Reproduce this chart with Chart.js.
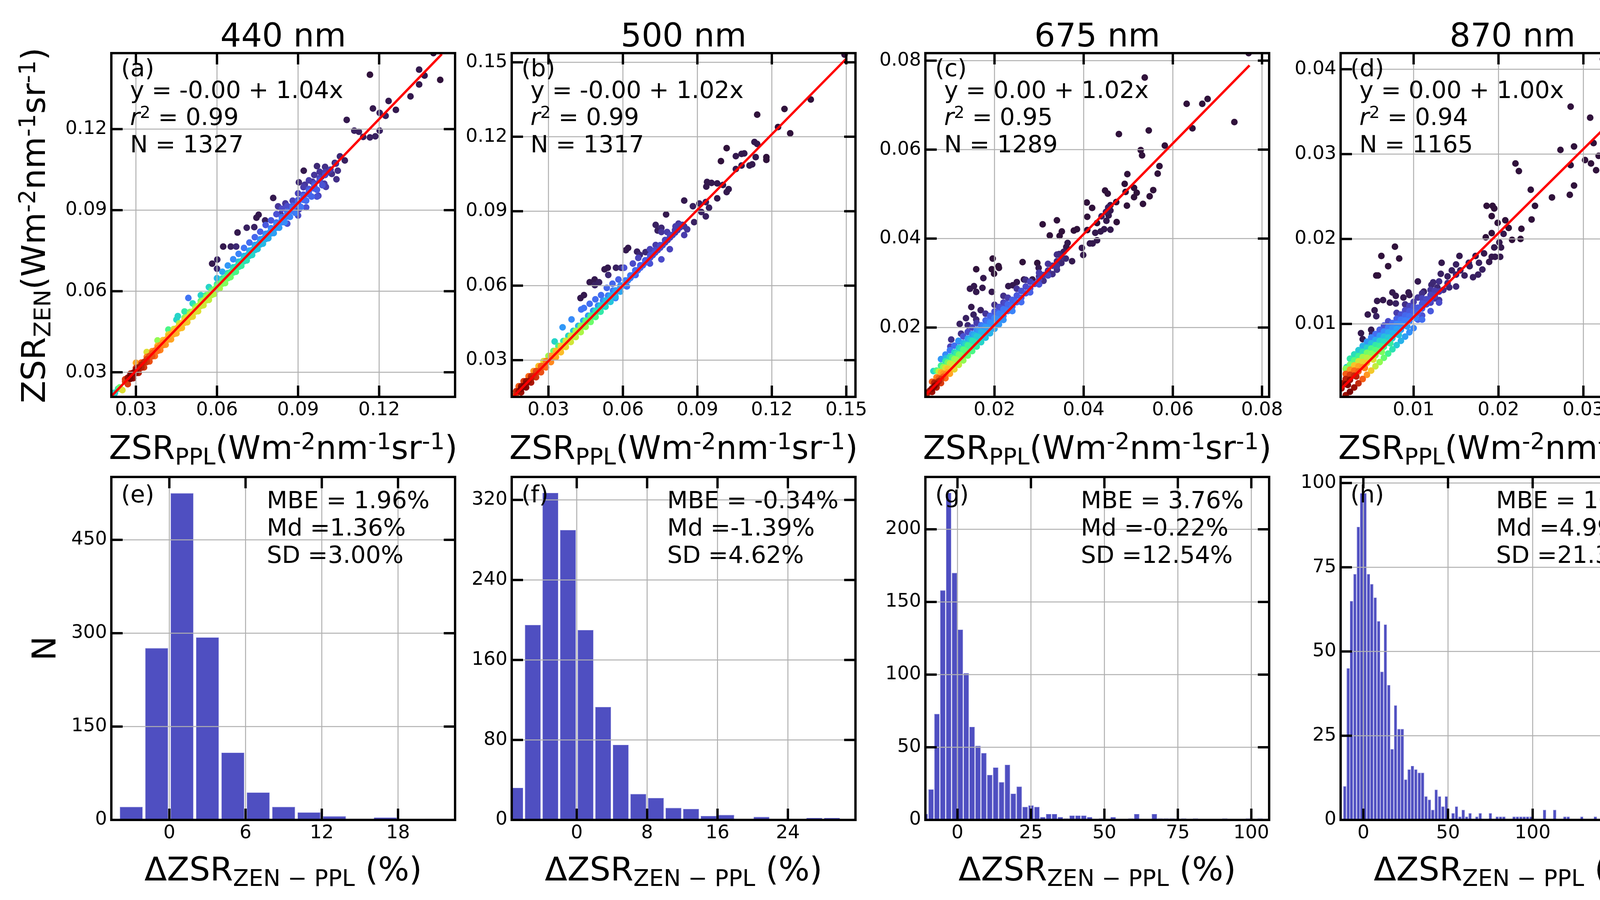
<!DOCTYPE html>
<html>
<head>
<meta charset="utf-8">
<script src="https://cdn.jsdelivr.net/npm/chart.js@4.4.1/dist/chart.umd.min.js"></script>
<style>
  html, body { margin: 0; padding: 0; background: #fff; }
  body { width: 4541px; height: 2304px; position: relative; overflow: hidden; font-family: "DejaVu Sans", sans-serif; }
  canvas { position: absolute; }
  .t { position: absolute; white-space: nowrap; line-height: 1; color: #000; }
  .t sup, .t sub { font-size: 0.7em; position: relative; vertical-align: baseline; line-height: 1; }
  .t sup { top: -0.42em; }
  .t sub { top: 0.24em; }
</style>
</head>
<body>
<script>
"use strict";

// ---------- data ----------
const waveLabels = ["440 nm", "500 nm", "675 nm", "870 nm"];
const scatterLetters = ["(a)", "(b)", "(c)", "(d)"];
const histLetters = ["(e)", "(f)", "(g)", "(h)"];
const fitLabels = ["y = -0.00 + 1.04x", "y = -0.00 + 1.02x", "y = 0.00 + 1.02x", "y = 0.00 + 1.00x"];
const r2Values = ["0.99", "0.99", "0.95", "0.94"];
const nValues = ["1327", "1317", "1289", "1165"];
const mbeValues = ["1.96", "-0.34", "3.76", "10.56"];
const mdValues = ["1.36", "-1.39", "-0.22", "4.99"];
const sdValues = ["3.00", "4.62", "12.54", "21.37"];

// colour bar
const CBAR_MIN = 0.01;
const CBAR_MAX = 1.0;
const cbarTicks = [0.2, 0.4, 0.6, 0.8, 1.0];

// scatter axes / ticks / fits  [intercept, slope], fit drawn over [xmin, xmax]
const axis440 = [0.0209, 0.1481];
const axis500 = [0.0152, 0.1537];
const axis675x = [0.0045, 0.0816];
const axis675y = [0.0044, 0.0817];
const axis870 = [0.0014, 0.0419];
const ticks440 = [0.03, 0.06, 0.09, 0.12];
const ticks500 = [0.03, 0.06, 0.09, 0.12, 0.15];
const ticks675 = [0.02, 0.04, 0.06, 0.08];
const ticks870 = [0.01, 0.02, 0.03, 0.04];
const fit440 = [-0.0005, 1.035];
const fit500 = [-0.0008, 1.015];
const fit675 = [0.0002, 1.02];
const fit870 = [0.0009, 0.99];
const fitX440 = [0.0212, 0.1432];
const fitX500 = [0.0158, 0.1502];
const fitX675 = [0.0048, 0.0772];
const fitX870 = [0.0014, 0.0403];

// scatter points: [ZSR_PPL, ZSR_ZEN, density]
const pts440 = [
  [0.022,0.0224,0.30],[0.0222,0.0223,0.25],[0.0234,0.0239,0.35],[0.024,0.0244,0.45],[0.025,0.0234,0.6],[0.026,0.0266,0.85],
  [0.027,0.0280,0.95],[0.027,0.0256,0.85],[0.028,0.0290,1.0],[0.029,0.0298,0.98],[0.029,0.0278,0.95],[0.030,0.0310,0.96],
  [0.030,0.0335,0.7],[0.031,0.0318,0.93],[0.031,0.0298,0.9],[0.032,0.0328,0.9],[0.033,0.0338,0.88],[0.033,0.0318,0.86],
  [0.034,0.0348,0.85],[0.034,0.0375,0.6],[0.035,0.0360,0.82],[0.035,0.0340,0.82],[0.036,0.0370,0.8],[0.037,0.0380,0.78],
  [0.037,0.0360,0.78],[0.038,0.0390,0.76],[0.038,0.0418,0.5],[0.039,0.0400,0.74],[0.039,0.0382,0.75],[0.040,0.0410,0.72],
  [0.041,0.0420,0.7],[0.041,0.0402,0.72],[0.042,0.0432,0.69],[0.042,0.0458,0.4],[0.043,0.0442,0.68],[0.043,0.0422,0.7],
  [0.044,0.0452,0.67],[0.045,0.0462,0.66],[0.045,0.0444,0.68],[0.045,0.0495,0.3],[0.0455,0.0508,0.3],[0.046,0.0472,0.65],
  [0.047,0.0482,0.63],[0.047,0.0464,0.66],[0.048,0.0494,0.62],[0.048,0.0525,0.35],[0.049,0.0504,0.6],[0.049,0.0485,0.64],
  [0.0494,0.0575,0.15],[0.050,0.0514,0.58],[0.051,0.0524,0.57],[0.051,0.0506,0.62],[0.051,0.0555,0.32],[0.052,0.0535,0.56],
  [0.053,0.0545,0.55],[0.053,0.0526,0.6],[0.054,0.0556,0.54],[0.054,0.0585,0.3],[0.055,0.0566,0.53],[0.055,0.0548,0.58],
  [0.0553,0.0582,0.12],[0.056,0.0577,0.52],[0.057,0.0587,0.5],[0.057,0.0568,0.56],[0.057,0.0615,0.3],[0.058,0.0597,0.49],
  [0.059,0.0607,0.47],[0.059,0.0590,0.54],[0.060,0.0618,0.46],[0.060,0.0648,0.25],[0.061,0.0628,0.44],[0.061,0.0610,0.52],
  [0.062,0.0639,0.42],[0.062,0.0672,0.22],[0.063,0.0649,0.4],[0.063,0.0630,0.48],[0.064,0.0660,0.38],[0.064,0.0695,0.2],
  [0.065,0.0670,0.36],[0.065,0.0652,0.45],[0.066,0.0680,0.35],[0.066,0.0718,0.18],[0.067,0.0690,0.33],[0.067,0.0672,0.4],
  [0.068,0.0701,0.32],[0.068,0.0738,0.17],[0.069,0.0711,0.3],[0.069,0.0694,0.36],[0.070,0.0722,0.28],[0.070,0.0760,0.15],
  [0.071,0.0732,0.27],[0.071,0.0714,0.33],[0.072,0.0742,0.26],[0.072,0.0780,0.14],[0.073,0.0752,0.25],[0.073,0.0734,0.3],
  [0.074,0.0763,0.24],[0.074,0.0800,0.13],[0.075,0.0773,0.23],[0.075,0.0756,0.27],[0.076,0.0783,0.22],[0.076,0.0820,0.12],
  [0.077,0.0794,0.21],[0.077,0.0776,0.25],[0.078,0.0804,0.2],[0.078,0.0845,0.11],[0.079,0.0814,0.2],[0.079,0.0796,0.23],
  [0.080,0.0825,0.19],[0.080,0.0862,0.11],[0.081,0.0815,0.21],[0.082,0.0846,0.18],[0.082,0.0885,0.1],[0.083,0.0835,0.2],
  [0.0835,0.0885,0.06],[0.084,0.0866,0.17],[0.084,0.0905,0.09],[0.085,0.0855,0.18],[0.086,0.0887,0.16],[0.086,0.0915,0.09],
  [0.086,0.0850,0.1],[0.087,0.0875,0.17],[0.088,0.0908,0.15],[0.088,0.0935,0.08],[0.089,0.0890,0.16],[0.090,0.0929,0.14],
  [0.090,0.0962,0.08],[0.090,0.0880,0.09],[0.091,0.0912,0.15],[0.092,0.0950,0.13],[0.092,0.0985,0.07],[0.093,0.0935,0.14],
  [0.093,0.0910,0.1],[0.094,0.0970,0.13],[0.094,0.1010,0.07],[0.095,0.0950,0.13],[0.096,0.0990,0.12],[0.096,0.1030,0.06],
  [0.097,0.0975,0.12],[0.097,0.0950,0.1],[0.098,0.1010,0.1],[0.098,0.1042,0.06],[0.099,0.0992,0.1],[0.100,0.1030,0.09],
  [0.100,0.1060,0.05],[0.101,0.1040,0.06],[0.102,0.1050,0.07],[0.104,0.1072,0.06],
  [0.026,0.0274,0.85],[0.028,0.0295,0.9],[0.030,0.0316,0.85],[0.032,0.0336,0.8],[0.034,0.0357,0.75],[0.036,0.0378,0.72],
  [0.038,0.0398,0.68],[0.040,0.0419,0.64],[0.042,0.0440,0.6],[0.044,0.0460,0.56],[0.046,0.0481,0.52],[0.048,0.0502,0.48],
  [0.050,0.0523,0.45],[0.052,0.0543,0.43],[0.054,0.0564,0.42],[0.056,0.0585,0.4],[0.058,0.0605,0.38],[0.060,0.0626,0.35],
  [0.062,0.0647,0.32],[0.064,0.0667,0.3],[0.066,0.0688,0.28],[0.068,0.0709,0.26],[0.070,0.0730,0.23],[0.072,0.0750,0.21],
  [0.074,0.0771,0.2],[0.076,0.0792,0.18],[0.078,0.0812,0.17],[0.080,0.0833,0.16],[0.082,0.0854,0.15],[0.084,0.0874,0.14],
  [0.086,0.0895,0.13],[0.088,0.0916,0.12],[0.090,0.0937,0.11],[0.092,0.0957,0.1],[0.094,0.0978,0.1],[0.096,0.0999,0.09],
  [0.098,0.1019,0.08],[0.100,0.1040,0.07],
  [0.028,0.0276,1.0],[0.030,0.0297,0.95],[0.032,0.0317,0.9],[0.034,0.0338,0.86],[0.036,0.0359,0.82],[0.038,0.0379,0.78],
  [0.040,0.0400,0.74],[0.042,0.0421,0.71],[0.044,0.0441,0.69],[0.046,0.0462,0.67],[0.048,0.0483,0.65],[0.050,0.0504,0.62],
  [0.052,0.0524,0.6],[0.054,0.0545,0.58],[0.056,0.0566,0.56],[0.058,0.0586,0.54],[0.060,0.0607,0.52],[0.062,0.0628,0.48],
  [0.064,0.0648,0.44],[0.066,0.0669,0.4],[0.068,0.0690,0.36],[0.070,0.0711,0.32],[0.072,0.0731,0.3],[0.074,0.0752,0.27],
  [0.076,0.0773,0.25],[0.078,0.0793,0.23],[0.080,0.0814,0.21],[0.082,0.0835,0.2],[0.084,0.0855,0.18],[0.086,0.0876,0.17],
  [0.088,0.0897,0.16],[0.090,0.0918,0.15],[0.092,0.0938,0.14],[0.094,0.0959,0.13],[0.096,0.0980,0.12],
  [0.0826,0.0914,0.06],[0.0853,0.0925,0.06],[0.0876,0.0903,0.07],[0.0925,0.0994,0.06],[0.0953,0.1005,0.06],[0.0986,0.1023,0.05],
  [0.1025,0.1034,0.05],[0.1047,0.1046,0.05],[0.0997,0.0998,0.07],[0.0903,0.0903,0.08],[0.1003,0.0986,0.07],[0.0975,0.0953,0.08],
  [0.1401,0.1481,0.01],[0.1166,0.1401,0.01],[0.1348,0.1420,0.02],[0.1368,0.1398,0.02],[0.1426,0.1382,0.01],[0.1348,0.1365,0.02],
  [0.1316,0.1321,0.02],[0.1262,0.1271,0.02],[0.1235,0.1304,0.02],[0.1177,0.1276,0.02],[0.1202,0.1260,0.03],[0.1224,0.1249,0.03],
  [0.1080,0.1234,0.02],[0.1202,0.1194,0.03],[0.1108,0.1194,0.03],[0.1125,0.1190,0.03],[0.1141,0.1171,0.03],[0.1166,0.1169,0.03],
  [0.1186,0.1173,0.03],[0.1055,0.1099,0.04],[0.1073,0.1084,0.03],[0.1036,0.1075,0.04],[0.0970,0.1063,0.04],[0.0921,0.1046,0.02],
  [0.0903,0.1003,0.04],[0.1042,0.1014,0.05],[0.0808,0.0945,0.02],[0.0754,0.0883,0.02],[0.0746,0.0872,0.02],[0.0778,0.0862,0.03],
  [0.0710,0.0835,0.03],[0.0738,0.0837,0.03],[0.0676,0.0817,0.02],[0.0623,0.0765,0.02],[0.0651,0.0765,0.03],[0.0582,0.0702,0.02],
  [0.0601,0.0717,0.03],[0.0671,0.0765,0.04],[0.0600,0.0683,0.04]
];

const pts500 = [
  [0.016,0.0154,0.7],[0.017,0.0165,0.85],[0.018,0.0175,0.95],[0.019,0.0185,1.0],[0.020,0.0195,1.0],[0.021,0.0205,0.98],
  [0.022,0.0215,0.95],[0.023,0.0225,0.9],[0.024,0.0236,0.87],[0.025,0.0246,0.84],[0.026,0.0256,0.82],[0.027,0.0266,0.8],
  [0.028,0.0276,0.78],[0.029,0.0286,0.76],[0.030,0.0297,0.74],[0.031,0.0307,0.72],[0.032,0.0317,0.7],[0.033,0.0327,0.68],
  [0.034,0.0337,0.66],[0.035,0.0347,0.64],[0.036,0.0357,0.62],[0.037,0.0368,0.6],[0.038,0.0378,0.58],[0.039,0.0388,0.56],
  [0.040,0.0398,0.55],[0.041,0.0408,0.54],[0.042,0.0418,0.52],[0.043,0.0428,0.5],[0.044,0.0439,0.48],[0.045,0.0449,0.45],
  [0.046,0.0459,0.42],[0.047,0.0469,0.4],[0.048,0.0479,0.37],[0.049,0.0489,0.34],[0.050,0.0500,0.32],[0.051,0.0510,0.3],
  [0.052,0.0520,0.28],[0.053,0.0530,0.26],[0.054,0.0540,0.25],[0.055,0.0550,0.24],[0.056,0.0560,0.23],[0.057,0.0571,0.22],
  [0.058,0.0581,0.21],[0.059,0.0591,0.2],[0.060,0.0601,0.19],[0.061,0.0611,0.18],[0.062,0.0621,0.17],[0.063,0.0631,0.16],
  [0.064,0.0642,0.15],[0.065,0.0652,0.14],[0.066,0.0662,0.13],[0.067,0.0672,0.13],[0.068,0.0682,0.12],[0.069,0.0693,0.12],
  [0.070,0.0703,0.11],[0.071,0.0713,0.1],[0.072,0.0723,0.1],[0.073,0.0733,0.1],[0.074,0.0743,0.09],[0.075,0.0753,0.09],
  [0.076,0.0763,0.09],[0.077,0.0774,0.08],[0.078,0.0784,0.08],[0.079,0.0794,0.08],[0.080,0.0804,0.08],[0.081,0.0814,0.07],
  [0.082,0.0824,0.07],[0.083,0.0835,0.07],[0.084,0.0845,0.06],
  [0.017,0.0150,0.85],[0.019,0.0170,0.95],[0.021,0.0190,0.98],[0.023,0.0210,0.92],[0.025,0.0231,0.86],[0.027,0.0251,0.82],
  [0.029,0.0271,0.78],[0.031,0.0292,0.74],[0.033,0.0312,0.7],[0.035,0.0332,0.66],[0.037,0.0353,0.62],[0.039,0.0373,0.58],
  [0.041,0.0393,0.56],[0.043,0.0413,0.53],[0.045,0.0434,0.5],[0.047,0.0454,0.45],[0.049,0.0474,0.4],[0.051,0.0495,0.35],
  [0.053,0.0515,0.3],[0.055,0.0535,0.27],[0.057,0.0556,0.24],[0.059,0.0576,0.22],
  [0.017,0.0175,0.88],[0.019,0.0195,0.95],[0.021,0.0215,0.95],[0.023,0.0235,0.88],[0.025,0.0256,0.83],[0.027,0.0276,0.79],
  [0.029,0.0296,0.75],[0.031,0.0317,0.7],[0.033,0.0337,0.66],[0.035,0.0357,0.62],[0.037,0.0378,0.58],[0.039,0.0398,0.54],
  [0.041,0.0418,0.5],[0.043,0.0438,0.46],[0.045,0.0459,0.42],[0.047,0.0479,0.37],[0.049,0.0499,0.32],[0.051,0.0520,0.28],
  [0.053,0.0540,0.25],[0.055,0.0560,0.22],[0.057,0.0581,0.2],[0.059,0.0601,0.18],[0.061,0.0621,0.16],[0.063,0.0641,0.15],
  [0.065,0.0662,0.13],[0.067,0.0682,0.12],[0.069,0.0702,0.11],[0.071,0.0723,0.1],[0.073,0.0743,0.09],[0.075,0.0763,0.09],
  [0.077,0.0784,0.08],[0.079,0.0804,0.08],[0.081,0.0824,0.07],[0.083,0.0844,0.07],
  [0.018,0.0195,0.8],[0.020,0.0215,0.85],[0.022,0.0235,0.78],[0.024,0.0256,0.72],[0.026,0.0276,0.66],[0.028,0.0296,0.6],
  [0.030,0.0317,0.52],[0.032,0.0337,0.45],[0.034,0.0357,0.4],[0.036,0.0377,0.35],[0.038,0.0398,0.3],[0.040,0.0418,0.27],
  [0.042,0.0438,0.24],[0.044,0.0459,0.22],[0.046,0.0479,0.2],[0.048,0.0499,0.19],[0.050,0.0520,0.18],[0.052,0.0540,0.17],
  [0.054,0.0560,0.16],[0.056,0.0580,0.15],
  [0.0325,0.0375,0.3],[0.0357,0.0432,0.2],[0.0393,0.0464,0.18],[0.0432,0.0504,0.15],[0.0443,0.0510,0.15],[0.0466,0.0527,0.14],
  [0.0489,0.0545,0.14],[0.0512,0.0562,0.14],[0.0535,0.0591,0.13],[0.0558,0.0608,0.13],[0.0582,0.0625,0.12],[0.0605,0.0672,0.1],
  [0.0640,0.0689,0.09],[0.0662,0.0712,0.08],[0.0709,0.0747,0.08],[0.0732,0.0764,0.07],[0.0755,0.0816,0.06],[0.0778,0.0816,0.07],
  [0.0812,0.0839,0.07],[0.0824,0.0850,0.06],[0.0847,0.0839,0.06],[0.0859,0.0827,0.06],[0.0847,0.0804,0.07],[0.0789,0.0747,0.08],
  [0.0755,0.0706,0.09],[0.0709,0.0689,0.1],[0.0651,0.0643,0.12],[0.0616,0.0597,0.14],[0.0570,0.0550,0.17],
  [0.0429,0.0550,0.02],[0.0443,0.0562,0.02],[0.0466,0.0614,0.02],[0.0486,0.0625,0.02],[0.0487,0.0602,0.03],[0.0504,0.0614,0.03],
  [0.0526,0.0666,0.02],[0.0539,0.0672,0.02],[0.0572,0.0672,0.03],[0.0541,0.0643,0.04],[0.0593,0.0672,0.04],[0.0612,0.0743,0.02],
  [0.0621,0.0752,0.02],[0.0657,0.0737,0.03],[0.0668,0.0724,0.04],[0.0691,0.0735,0.04],[0.0732,0.0845,0.03],[0.0740,0.0822,0.03],
  [0.0755,0.0833,0.04],[0.0774,0.0887,0.02],[0.0847,0.0943,0.02],[0.0882,0.0920,0.03],[0.0887,0.0856,0.03],[0.0908,0.0931,0.03],
  [0.0916,0.0897,0.03],[0.0934,0.0879,0.03],[0.0934,0.0937,0.03],[0.0947,0.0914,0.03],[0.0936,0.0999,0.02],[0.0939,0.1018,0.02],
  [0.0957,0.1014,0.02],[0.0980,0.1012,0.02],[0.1003,0.1006,0.02],[0.0980,0.0952,0.02],[0.1018,0.0977,0.02],[0.1026,0.0989,0.02],
  [0.0995,0.1102,0.01],[0.1018,0.1154,0.01],[0.1055,0.1122,0.02],[0.1055,0.1070,0.02],[0.1078,0.1131,0.02],[0.1089,0.1133,0.02],
  [0.1078,0.1084,0.02],[0.1110,0.1084,0.02],[0.1121,0.1089,0.02],[0.1130,0.1179,0.02],[0.1135,0.1118,0.02],[0.1141,0.1171,0.02],
  [0.1178,0.1118,0.01],[0.1178,0.1107,0.01],[0.1141,0.1289,0.01],[0.1225,0.1239,0.01],[0.1251,0.1312,0.01],[0.1274,0.1214,0.01],
  [0.1357,0.1350,0.01],[0.1493,0.1531,0.01]
];

const pts675 = [
  [0.005,0.0053,0.9],[0.0055,0.0058,0.95],[0.006,0.0063,1.0],[0.0065,0.0068,1.0],[0.007,0.0073,0.95],[0.0075,0.0079,0.9],
  [0.008,0.0084,0.85],[0.0085,0.0089,0.8],[0.009,0.0094,0.75],[0.0095,0.0099,0.7],[0.010,0.0104,0.65],[0.0105,0.0109,0.6],
  [0.011,0.0114,0.56],[0.0115,0.0119,0.52],[0.012,0.0124,0.48],[0.0125,0.0130,0.45],[0.013,0.0135,0.42],[0.0135,0.0140,0.4],
  [0.014,0.0145,0.38],[0.0145,0.0150,0.35],[0.015,0.0155,0.32],[0.0155,0.0160,0.3],[0.016,0.0165,0.28],[0.017,0.0175,0.25],
  [0.018,0.0186,0.23],[0.019,0.0196,0.21],[0.020,0.0206,0.2],[0.021,0.0216,0.19],[0.022,0.0226,0.18],[0.023,0.0237,0.16],
  [0.024,0.0247,0.15],[0.025,0.0257,0.14],[0.026,0.0267,0.12],[0.027,0.0277,0.11],[0.028,0.0288,0.1],[0.029,0.0298,0.09],
  [0.030,0.0308,0.08],[0.031,0.0318,0.07],[0.032,0.0328,0.06],[0.033,0.0339,0.06],[0.034,0.0349,0.05],[0.035,0.0359,0.05],
  [0.006,0.0055,0.95],[0.007,0.0065,0.9],[0.008,0.0075,0.85],[0.009,0.0086,0.78],[0.010,0.0096,0.7],[0.011,0.0106,0.62],
  [0.012,0.0116,0.56],[0.013,0.0126,0.5],[0.014,0.0137,0.45],[0.015,0.0147,0.4],[0.016,0.0157,0.35],[0.017,0.0167,0.3],
  [0.018,0.0177,0.26],[0.019,0.0187,0.24],[0.020,0.0197,0.22],[0.021,0.0207,0.2],[0.022,0.0217,0.19],[0.024,0.0237,0.17],
  [0.026,0.0257,0.14],[0.028,0.0279,0.12],[0.030,0.0297,0.1],[0.032,0.0317,0.08],[0.034,0.0338,0.06],
  [0.0065,0.0076,0.9],[0.0075,0.0086,0.8],[0.0085,0.0096,0.72],[0.0095,0.0107,0.65],[0.0105,0.0117,0.58],[0.0115,0.0127,0.52],
  [0.0125,0.0137,0.46],[0.0135,0.0147,0.42],[0.0145,0.0157,0.38],[0.0155,0.0168,0.33],[0.0165,0.0178,0.28],[0.0175,0.0188,0.24],
  [0.0185,0.0198,0.21],[0.0195,0.0208,0.19],[0.0205,0.0219,0.18],[0.0215,0.0229,0.16],[0.0225,0.0239,0.15],[0.0235,0.0249,0.13],
  [0.0245,0.0259,0.12],
  [0.006,0.0078,0.8],[0.007,0.0088,0.75],[0.008,0.0099,0.68],[0.009,0.0109,0.6],[0.010,0.0119,0.55],[0.011,0.0129,0.5],
  [0.012,0.0139,0.45],[0.013,0.0150,0.42],[0.014,0.0160,0.38],[0.015,0.0170,0.33],[0.016,0.0180,0.28],[0.017,0.0190,0.24],
  [0.018,0.0201,0.2],[0.019,0.0211,0.18],[0.020,0.0221,0.17],[0.021,0.0231,0.16],[0.022,0.0241,0.15],[0.023,0.0252,0.13],
  [0.024,0.0262,0.12],[0.025,0.0272,0.11],[0.026,0.0282,0.1],[0.027,0.0292,0.09],[0.028,0.0303,0.08],[0.030,0.0323,0.07],
  [0.032,0.0343,0.06],[0.034,0.0364,0.05],
  [0.0075,0.0101,0.55],[0.0085,0.0111,0.5],[0.0095,0.0121,0.45],[0.0105,0.0132,0.4],[0.0115,0.0142,0.36],[0.0125,0.0152,0.33],
  [0.0135,0.0162,0.3],[0.0145,0.0172,0.27],[0.0155,0.0183,0.24],[0.0165,0.0193,0.2],[0.0175,0.0203,0.17],[0.0185,0.0213,0.15],
  [0.0195,0.0223,0.13],[0.0205,0.0234,0.12],[0.0215,0.0244,0.1],[0.0225,0.0254,0.09],
  [0.007,0.0103,0.4],[0.008,0.0114,0.38],[0.009,0.0124,0.35],[0.010,0.0134,0.32],[0.011,0.0144,0.3],[0.012,0.0154,0.28],
  [0.013,0.0165,0.25],[0.014,0.0175,0.22],[0.015,0.0185,0.2],[0.016,0.0195,0.17],[0.017,0.0205,0.15],[0.018,0.0216,0.13],
  [0.019,0.0226,0.12],[0.020,0.0236,0.1],[0.021,0.0246,0.09],[0.022,0.0256,0.08],[0.023,0.0267,0.07],[0.025,0.0287,0.06],
  [0.027,0.0307,0.05],
  [0.008,0.0129,0.2],[0.009,0.0139,0.18],[0.010,0.0149,0.16],[0.011,0.0159,0.14],[0.012,0.0169,0.12],[0.013,0.0180,0.1],
  [0.014,0.0190,0.09],[0.015,0.0200,0.08],[0.016,0.0210,0.07],[0.018,0.0231,0.06],[0.020,0.0251,0.05],[0.022,0.0271,0.05],
  [0.0063,0.0102,0.3],[0.0091,0.0131,0.25],[0.0119,0.0170,0.2],
  [0.030,0.0315,0.05],[0.031,0.0305,0.05],[0.032,0.0325,0.05],[0.033,0.0320,0.05],[0.034,0.0330,0.05],[0.035,0.0345,0.04],
  [0.036,0.0355,0.04],[0.0345,0.0365,0.04],[0.0355,0.0370,0.03],[0.044,0.0450,0.03],[0.045,0.0460,0.03],[0.0455,0.0470,0.03],
  [0.046,0.0475,0.02],
  [0.0103,0.0173,0.05],[0.0101,0.0157,0.08],[0.0122,0.0208,0.03],[0.0125,0.0186,0.05],[0.0136,0.0221,0.03],[0.0140,0.0205,0.04],
  [0.0148,0.0246,0.02],[0.0153,0.0229,0.03],[0.0159,0.0218,0.04],[0.0169,0.0239,0.03],[0.0145,0.0287,0.02],[0.0154,0.0293,0.02],
  [0.0159,0.0280,0.02],[0.0173,0.0289,0.02],[0.0175,0.0311,0.02],[0.0159,0.0331,0.01],[0.0194,0.0280,0.02],[0.0196,0.0355,0.01],
  [0.0194,0.0331,0.01],[0.0199,0.0321,0.01],[0.0209,0.0338,0.01],[0.0210,0.0334,0.01],[0.0231,0.0293,0.02],[0.0241,0.0295,0.02],
  [0.0250,0.0302,0.02],[0.0263,0.0347,0.01],[0.0266,0.0308,0.02],[0.0285,0.0308,0.02],[0.0296,0.0345,0.01],[0.0299,0.0334,0.02],
  [0.0308,0.0432,0.01],[0.0324,0.0407,0.01],[0.0340,0.0441,0.01],[0.0346,0.0406,0.01],[0.0351,0.0416,0.01],[0.0364,0.0390,0.02],
  [0.0361,0.0381,0.02],[0.0374,0.0349,0.02],[0.0378,0.0418,0.01],[0.0385,0.0421,0.01],[0.0396,0.0379,0.02],[0.0399,0.0363,0.02],
  [0.0407,0.0481,0.01],[0.0408,0.0449,0.01],[0.0408,0.0419,0.01],[0.0419,0.0469,0.01],[0.0414,0.0389,0.02],[0.0420,0.0389,0.02],
  [0.0430,0.0396,0.02],[0.0430,0.0435,0.01],[0.0426,0.0413,0.02],[0.0438,0.0416,0.02],[0.0446,0.0421,0.02],[0.0451,0.0440,0.02],
  [0.0456,0.0452,0.02],[0.0460,0.0463,0.02],[0.0460,0.0420,0.02],[0.0474,0.0437,0.01],[0.0473,0.0482,0.01],[0.0448,0.0508,0.01],
  [0.0454,0.0501,0.01],[0.0479,0.0635,0.01],[0.0492,0.0523,0.01],[0.0494,0.0505,0.01],[0.0498,0.0545,0.01],[0.0497,0.0474,0.01],
  [0.0513,0.0514,0.01],[0.0519,0.0503,0.01],[0.0513,0.0493,0.01],[0.0533,0.0478,0.01],[0.0548,0.0495,0.01],[0.0556,0.0509,0.01],
  [0.0528,0.0599,0.01],[0.0531,0.0587,0.01],[0.0546,0.0643,0.01],[0.0566,0.0546,0.01],[0.0570,0.0563,0.01],[0.0582,0.0609,0.01],
  [0.0537,0.0762,0.005],[0.0631,0.0703,0.005],[0.0644,0.0648,0.005],[0.0666,0.0703,0.005],[0.0678,0.0714,0.005],
  [0.0738,0.0662,0.005],[0.0770,0.0817,0.005]
];

const pts870 = [
  [0.0015,0.0024,0.95],[0.002,0.0029,1.0],[0.0025,0.0034,0.95],[0.003,0.0039,0.88],[0.0035,0.0044,0.8],[0.004,0.0049,0.72],
  [0.0045,0.0054,0.64],[0.005,0.0059,0.56],[0.0055,0.0063,0.5],[0.006,0.0068,0.44],[0.0065,0.0073,0.38],[0.007,0.0078,0.32],
  [0.0075,0.0083,0.28],[0.008,0.0088,0.24],[0.0085,0.0093,0.21],[0.009,0.0098,0.19],[0.0095,0.0103,0.17],[0.010,0.0108,0.15],
  [0.0105,0.0113,0.13],[0.011,0.0118,0.12],[0.0115,0.0123,0.1],[0.012,0.0128,0.09],[0.0125,0.0133,0.08],[0.013,0.0138,0.07],
  [0.014,0.0148,0.05],[0.015,0.0158,0.04],
  [0.002,0.0016,0.95],[0.0025,0.0020,1.0],[0.003,0.0025,0.95],[0.0035,0.0030,0.88],[0.004,0.0035,0.8],[0.0045,0.0040,0.72],
  [0.005,0.0045,0.64],[0.0055,0.0050,0.56],[0.006,0.0055,0.5],[0.0065,0.0060,0.44],[0.007,0.0065,0.38],[0.0075,0.0070,0.33],
  [0.008,0.0075,0.28],[0.0085,0.0080,0.24],[0.009,0.0085,0.21],[0.0095,0.0090,0.19],[0.010,0.0095,0.17],[0.011,0.0105,0.14],
  [0.012,0.0115,0.11],[0.013,0.0125,0.09],
  [0.00225,0.0028,1.0],[0.00325,0.0038,0.9],[0.00425,0.0048,0.75],[0.00525,0.0058,0.6],[0.00625,0.0067,0.47],[0.00725,0.0077,0.36],
  [0.00825,0.0087,0.27],[0.00925,0.0097,0.21],[0.01025,0.0107,0.17],
  [0.0015,0.0030,0.92],[0.002,0.0035,0.9],[0.0025,0.0040,0.85],[0.003,0.0045,0.78],[0.0035,0.0050,0.7],[0.004,0.0055,0.62],
  [0.0045,0.0060,0.55],[0.005,0.0065,0.48],[0.0055,0.0069,0.42],[0.006,0.0074,0.37],[0.0065,0.0079,0.32],[0.007,0.0084,0.28],
  [0.0075,0.0089,0.24],[0.008,0.0094,0.21],[0.0085,0.0099,0.18],[0.009,0.0104,0.16],[0.0095,0.0109,0.14],[0.010,0.0114,0.12],
  [0.0105,0.0119,0.11],[0.011,0.0124,0.1],[0.0115,0.0129,0.09],[0.012,0.0134,0.08],[0.0125,0.0139,0.07],
  [0.002,0.0041,0.8],[0.0025,0.0046,0.72],[0.003,0.0051,0.65],[0.0035,0.0056,0.58],[0.004,0.0061,0.52],[0.0045,0.0066,0.46],
  [0.005,0.0071,0.4],[0.0055,0.0075,0.35],[0.006,0.0080,0.3],[0.0065,0.0085,0.26],[0.007,0.0090,0.22],[0.0075,0.0095,0.19],
  [0.008,0.0100,0.17],[0.0085,0.0105,0.15],[0.009,0.0110,0.13],[0.0095,0.0115,0.11],[0.010,0.0120,0.1],[0.011,0.0130,0.08],
  [0.012,0.0140,0.06],[0.013,0.0150,0.05],
  [0.002,0.0047,0.5],[0.0025,0.0052,0.46],[0.003,0.0057,0.42],[0.0035,0.0062,0.38],[0.004,0.0067,0.34],[0.0045,0.0072,0.3],
  [0.005,0.0077,0.26],[0.0055,0.0081,0.23],[0.006,0.0086,0.2],[0.0065,0.0091,0.18],[0.007,0.0096,0.16],[0.0075,0.0101,0.14],
  [0.008,0.0106,0.12],[0.0085,0.0111,0.1],[0.009,0.0116,0.09],[0.0095,0.0121,0.08],[0.010,0.0126,0.07],[0.0105,0.0131,0.06],
  [0.011,0.0136,0.05],
  [0.0025,0.0059,0.35],[0.003,0.0064,0.32],[0.0035,0.0069,0.28],[0.004,0.0074,0.24],[0.0045,0.0079,0.2],[0.005,0.0084,0.17],
  [0.0055,0.0088,0.14],[0.006,0.0093,0.12],[0.0065,0.0098,0.1],[0.007,0.0103,0.09],[0.008,0.0113,0.07],[0.009,0.0123,0.05],
  [0.0021,0.0049,0.3],[0.0022,0.0046,0.25],[0.0038,0.0063,0.2],
  [0.0110,0.0120,0.08],[0.0115,0.0128,0.07],[0.0120,0.0125,0.08],[0.0125,0.0130,0.06],[0.0128,0.0138,0.06],[0.0110,0.0110,0.1],
  [0.0105,0.0105,0.12],[0.0130,0.0128,0.06],[0.0135,0.0140,0.05],
  [0.0038,0.0089,0.02],[0.0040,0.0082,0.02],[0.0050,0.0093,0.02],[0.0051,0.0088,0.03],[0.0046,0.0111,0.02],[0.0054,0.0116,0.02],
  [0.0056,0.0109,0.03],[0.0057,0.0127,0.02],[0.0064,0.0128,0.02],[0.0072,0.0125,0.02],[0.0079,0.0124,0.03],[0.0075,0.0137,0.02],
  [0.0079,0.0133,0.02],[0.0088,0.0131,0.02],[0.0094,0.0137,0.02],[0.0095,0.0134,0.02],[0.0056,0.0157,0.01],[0.0058,0.0157,0.01],
  [0.0062,0.0180,0.01],[0.0070,0.0168,0.01],[0.0078,0.0191,0.01],[0.0083,0.0177,0.01],[0.0105,0.0150,0.02],[0.0112,0.0138,0.03],
  [0.0121,0.0146,0.04],[0.0123,0.0149,0.04],[0.0128,0.0143,0.04],[0.0133,0.0172,0.02],[0.0132,0.0159,0.03],[0.0140,0.0156,0.03],
  [0.0142,0.0143,0.04],[0.0145,0.0163,0.03],[0.0150,0.0170,0.03],[0.0150,0.0144,0.04],[0.0154,0.0180,0.02],[0.0155,0.0163,0.03],
  [0.0160,0.0157,0.03],[0.0165,0.0172,0.03],[0.0166,0.0168,0.03],[0.0170,0.0155,0.03],[0.0176,0.0158,0.03],[0.0173,0.0180,0.02],
  [0.0177,0.0172,0.03],[0.0181,0.0164,0.03],[0.0183,0.0183,0.02],[0.0186,0.0239,0.01],[0.0193,0.0239,0.01],[0.0195,0.0236,0.01],
  [0.0192,0.0227,0.01],[0.0199,0.0219,0.01],[0.0185,0.0202,0.01],[0.0192,0.0207,0.01],[0.0189,0.0173,0.02],[0.0192,0.0179,0.02],
  [0.0195,0.0190,0.02],[0.0196,0.0179,0.02],[0.0201,0.0196,0.02],[0.0202,0.0179,0.02],[0.0203,0.0190,0.02],[0.0206,0.0206,0.02],
  [0.0208,0.0222,0.01],[0.0212,0.0213,0.01],[0.0216,0.0199,0.01],[0.0220,0.0289,0.005],[0.0224,0.0280,0.005],[0.0226,0.0200,0.01],
  [0.0227,0.0212,0.01],[0.0238,0.0258,0.005],[0.0239,0.0223,0.01],[0.0243,0.0239,0.01],[0.0263,0.0249,0.005],[0.0273,0.0305,0.005],
  [0.0284,0.0252,0.005],[0.0285,0.0356,0.005],[0.0285,0.0287,0.005],[0.0289,0.0309,0.005],[0.0289,0.0263,0.005],[0.0302,0.0293,0.005],
  [0.0308,0.0343,0.005],[0.0309,0.0289,0.005],[0.0312,0.0313,0.005],[0.0315,0.0281,0.005],[0.0318,0.0298,0.005],[0.0323,0.0412,0.005],
  [0.0334,0.0362,0.005],[0.0337,0.0319,0.005],[0.0348,0.0324,0.005],[0.0363,0.0364,0.005],[0.0366,0.0400,0.005],[0.0395,0.0401,0.005],
  [0.0398,0.0345,0.005],[0.0403,0.0419,0.005]
];

// histograms: bins of width 2, first bin centre, counts per bin
const BIN_W = 2;
const histStart = [-3, -7, -11, -13];
const counts440 = [21, 276, 525, 293, 108, 44, 21, 12, 6, 2, 4, 0, 2];
const counts500 = [32, 195, 327, 290, 190, 113, 75, 26, 22, 12, 11, 4, 5, 0, 3, 0, 0, 2, 2, 1];
const counts675 = [4, 21, 73, 158, 225, 170, 131, 101, 64, 51, 46, 31, 36, 26, 38, 18, 23, 9, 10, 9,
  2, 4, 4, 2, 1, 3, 3, 3, 2, 0, 1, 0, 2, 0, 0, 1, 4, 0, 0, 4, 1, 1, 1, 0, 1, 0, 1, 0, 0, 0,
  0, 1, 0, 0, 0, 1, 0, 1];
const counts870 = [0, 10, 45, 65, 73, 87, 97, 97, 73, 70, 66, 59, 44, 58, 40, 21, 34, 27, 27, 12,
  15, 16, 15, 14, 14, 7, 6, 3, 9, 7, 4, 7, 0, 2, 4, 1, 3, 1, 2, 0, 1, 2, 0, 0, 2, 0, 1, 1, 1, 0,
  0, 1, 1, 1, 1, 1, 1, 0, 0, 0, 3, 0, 0, 3, 0, 0, 1, 1, 0, 0, 0, 1, 0, 0, 0, 1, 0, 1, 1, 0,
  0, 0, 0, 0, 0, 0, 0, 0, 0, 0, 1, 0, 0, 0, 0, 0, 1, 0, 0, 0, 0, 1];
const histX = [[-4.565, 22.49], [-7.39, 31.68], [-10.92, 106.07], [-13.43, 189.6]];
const histXTicks = [[0, 6, 12, 18], [0, 8, 16, 24], [0, 25, 50, 75, 100], [0, 50, 100, 150]];
const histYMax = [551, 343, 236, 101.8];
const histYTicks = [[0, 150, 300, 450], [0, 80, 160, 240, 320], [0, 50, 100, 150, 200], [0, 25, 50, 75, 100]];

// ---------- layout ----------
const COL_LEFT = [285, 1310, 2369, 3432];
const PANEL_W = 880;
const ROW_TOP = [136, 1221];
const PANEL_H = [880, 878];
const PAD = { l: 200, r: 80, t: 40, b: 100 };
const CB = { l: 4371, t: 130, r: 4414, b: 1016 };
const FONT = "DejaVu Sans";
const TICK_FONT = 48;
const ANNO_FONT = 61;
const LABEL_FONT = 84;
const SPINE_W = 6;
const TICK_LEN = 29;
const GRID_COLOR = "#b0b0b0";
const BAR_COLOR = "#4f4fc1";

// turbo colour map (polynomial fit, ends pinned to the real map)
function turboPoly(x) {
  const r = 0.13572138 + x * (4.6153926 + x * (-42.66032258 + x * (132.13108234 + x * (-152.94239396 + x * 59.28637943))));
  const g = 0.09140261 + x * (2.19418839 + x * (4.84296658 + x * (-14.18503333 + x * (4.27729857 + x * 2.82956604))));
  const b = 0.1066733 + x * (12.64194608 + x * (-60.58204836 + x * (110.36276771 + x * (-89.90310912 + x * 27.34824973))));
  return [r * 255, g * 255, b * 255];
}
function mix(a, b, t) { return a.map((v, i) => v + (b[i] - v) * t); }
function turbo(t) {
  t = Math.min(1, Math.max(0, t));
  let c;
  if (t < 0.05) c = mix([48, 18, 59], turboPoly(0.05), t / 0.05);
  else if (t > 0.95) c = mix(turboPoly(0.95), [122, 4, 3], (t - 0.95) / 0.05);
  else c = turboPoly(t);
  c = c.map((v) => Math.round(Math.min(255, Math.max(0, v))));
  return `rgb(${c[0]},${c[1]},${c[2]})`;
}
const densColor = (d) => turbo((d - CBAR_MIN) / (CBAR_MAX - CBAR_MIN));

// frame, inward ticks and grid drawn over the data like matplotlib
const framePlugin = {
  id: "frame",
  afterDatasetDraw(chart, args, opts) {
    if (!opts.grid || args.index !== chart.data.datasets.length - 1) return;
    const { ctx, chartArea: a, scales } = chart;
    ctx.save();
    ctx.beginPath();
    ctx.rect(a.left, a.top, a.right - a.left, a.bottom - a.top);
    ctx.clip();
    ctx.strokeStyle = GRID_COLOR;
    ctx.lineWidth = 2.5;
    ctx.beginPath();
    scales.x.ticks.forEach((t) => {
      const p = scales.x.getPixelForValue(t.value);
      ctx.moveTo(p, a.top);
      ctx.lineTo(p, a.bottom);
    });
    scales.y.ticks.forEach((t) => {
      const p = scales.y.getPixelForValue(t.value);
      ctx.moveTo(a.left, p);
      ctx.lineTo(a.right, p);
    });
    ctx.stroke();
    ctx.restore();
  },
  afterDraw(chart, args, opts) {
    const { ctx, chartArea: a, scales } = chart;
    ctx.save();
    ctx.strokeStyle = "#000";
    ctx.lineWidth = SPINE_W;
    ctx.beginPath();
    if (opts.xTicks) {
      scales.x.ticks.forEach((t) => {
        const p = scales.x.getPixelForValue(t.value);
        ctx.moveTo(p, a.bottom);
        ctx.lineTo(p, a.bottom - TICK_LEN);
        ctx.moveTo(p, a.top);
        ctx.lineTo(p, a.top + TICK_LEN);
      });
    }
    scales.y.ticks.forEach((t) => {
      const p = scales.y.getPixelForValue(t.value);
      if (opts.leftTicks) {
        ctx.moveTo(a.left, p);
        ctx.lineTo(a.left + TICK_LEN, p);
      }
      ctx.moveTo(a.right, p);
      ctx.lineTo(a.right - TICK_LEN, p);
    });
    ctx.stroke();
    ctx.strokeRect(a.left, a.top, a.right - a.left, a.bottom - a.top);
    ctx.restore();
  },
};

function makeCanvas(left, top, w, h) {
  const c = document.createElement("canvas");
  c.width = w;
  c.height = h;
  c.style.left = left + "px";
  c.style.top = top + "px";
  c.style.width = w + "px";
  c.style.height = h + "px";
  document.body.appendChild(c);
  return c;
}

function panelCanvas(col, row) {
  return makeCanvas(COL_LEFT[col] - PAD.l, ROW_TOP[row] - PAD.t, PANEL_W + PAD.l + PAD.r, PANEL_H[row] + PAD.t + PAD.b);
}

function axisOpts(range, ticks, fmt, isY) {
  return {
    type: "linear",
    position: isY ? "left" : "bottom",
    min: range[0],
    max: range[1],
    offset: false,
    grid: { display: false, drawTicks: false },
    border: { display: false },
    afterBuildTicks: (s) => { s.ticks = ticks.map((v) => ({ value: v })); },
    afterFit: (s) => { if (isY) s.width = PAD.l; else s.height = PAD.b; },
    ticks: {
      autoSkip: false,
      maxRotation: 0,
      minRotation: 0,
      padding: isY ? 11 : 6,
      color: "#000",
      font: { family: FONT, size: TICK_FONT },
      callback: (v) => fmt(v),
    },
  };
}

function baseOptions(scales) {
  return {
    responsive: false,
    animation: false,
    devicePixelRatio: 1,
    events: [],
    layout: { padding: { top: PAD.t, right: PAD.r, left: 0, bottom: 0 } },
    plugins: { legend: { display: false }, tooltip: { enabled: false }, frame: { grid: true, xTicks: true, leftTicks: true } },
    scales,
  };
}

function scatterChart(col, pts, xRange, yRange, xTicks, yTicks, fit, fitX) {
  const sorted = pts.slice().sort((p, q) => p[2] - q[2]);
  new Chart(panelCanvas(col, 0), {
    type: "scatter",
    data: {
      datasets: [
        {
          data: fitX.map((x) => ({ x, y: fit[0] + fit[1] * x })),
          showLine: true,
          borderColor: "#ff0000",
          borderWidth: 6,
          pointRadius: 0,
          clip: 0,
        },
        {
          data: sorted.map((p) => ({ x: p[0], y: p[1] })),
          pointBackgroundColor: sorted.map((p) => densColor(p[2])),
          pointBorderWidth: 0,
          pointRadius: 8.5,
          clip: 0,
        },
      ],
    },
    options: baseOptions({
      x: axisOpts(xRange, xTicks, (v) => v.toFixed(2), false),
      y: axisOpts(yRange, yTicks, (v) => v.toFixed(2), true),
    }),
    plugins: [framePlugin],
  });
}

function histChart(col, counts) {
  const data = counts.map((n, i) => ({ x: histStart[col] + BIN_W * i, y: n }));
  new Chart(panelCanvas(col, 1), {
    type: "bar",
    data: {
      datasets: [{
        data,
        backgroundColor: BAR_COLOR,
        borderColor: "#7474d2",
        borderWidth: 1,
        barPercentage: 0.9,
        categoryPercentage: 1,
        clip: 0,
      }],
    },
    options: baseOptions({
      x: axisOpts(histX[col], histXTicks[col], (v) => String(v), false),
      y: axisOpts([0, histYMax[col]], histYTicks[col], (v) => String(v), true),
    }),
    plugins: [framePlugin],
  });
}

function colorBar() {
  const padL = 10, padV = 30, axisW = 130;
  const cv = makeCanvas(CB.l - padL, CB.t - padV, CB.r - CB.l + padL + axisW, CB.b - CB.t + 2 * padV);
  new Chart(cv, {
    type: "bar",
    data: {
      labels: ["Density"],
      datasets: [{
        data: [[CBAR_MIN, CBAR_MAX]],
        barPercentage: 1,
        categoryPercentage: 1,
        borderWidth: 0,
        backgroundColor: (c) => {
          const a = c.chart.chartArea;
          if (!a) return "#000";
          const g = c.chart.ctx.createLinearGradient(0, a.bottom, 0, a.top);
          for (let i = 0; i <= 40; i++) g.addColorStop(i / 40, turbo(i / 40));
          return g;
        },
      }],
    },
    options: {
      responsive: false,
      animation: false,
      devicePixelRatio: 1,
      events: [],
      layout: { padding: { top: padV, bottom: padV, left: padL, right: 0 } },
      plugins: { legend: { display: false }, tooltip: { enabled: false }, frame: { grid: false, xTicks: false, leftTicks: false } },
      scales: {
        x: { display: false },
        y: {
          type: "linear",
          position: "right",
          min: CBAR_MIN,
          max: CBAR_MAX,
          grid: { display: false, drawTicks: false },
          border: { display: false },
          afterBuildTicks: (s) => { s.ticks = cbarTicks.map((v) => ({ value: v })); },
          afterFit: (s) => { s.width = axisW; },
          ticks: { autoSkip: false, padding: 13, color: "#000", font: { family: FONT, size: TICK_FONT }, callback: (v) => v.toFixed(1) },
        },
      },
    },
    plugins: [framePlugin],
  });
}

// ---------- text ----------
function addText(html, x, baseline, size, align) {
  const d = document.createElement("div");
  d.className = "t";
  d.innerHTML = html;
  d.style.fontSize = size + "px";
  d.style.left = x + "px";
  d.style.top = (baseline - 0.846 * size) + "px";
  if (align === "center") d.style.transform = "translateX(-50%)";
  document.body.appendChild(d);
}
function addVText(html, cx, cy, size) {
  const d = document.createElement("div");
  d.className = "t";
  d.innerHTML = html;
  d.style.fontSize = size + "px";
  d.style.left = cx + "px";
  d.style.top = cy + "px";
  d.style.transform = "translate(-50%, -50%) rotate(-90deg)";
  document.body.appendChild(d);
}

// ---------- build ----------
scatterChart(0, pts440, axis440, axis440, ticks440, ticks440, fit440, fitX440);
scatterChart(1, pts500, axis500, axis500, ticks500, ticks500, fit500, fitX500);
scatterChart(2, pts675, axis675x, axis675y, ticks675, ticks675, fit675, fitX675);
scatterChart(3, pts870, axis870, axis870, ticks870, ticks870, fit870, fitX870);
histChart(0, counts440);
histChart(1, counts500);
histChart(2, counts675);
histChart(3, counts870);
colorBar();

const unitHTML = "(Wm<sup>-2</sup>nm<sup>-1</sup>sr<sup>-1</sup>)";
COL_LEFT.forEach((left, i) => {
  const cx = left + PANEL_W / 2;
  addText(waveLabels[i], cx, 119, LABEL_FONT, "center");
  addText("ZSR<sub>PPL</sub>" + unitHTML, cx, 1175, LABEL_FONT, "center");
  addText("ΔZSR<sub>ZEN − PPL</sub> (%)", cx, 2254, LABEL_FONT, "center");

  const top = ROW_TOP[0];
  addText(scatterLetters[i], left + 25, top + 59, ANNO_FONT);
  addText(fitLabels[i], left + 48, top + 115, ANNO_FONT);
  addText("<i>r</i><sup>2</sup> = " + r2Values[i], left + 48, top + 184, ANNO_FONT);
  addText("N = " + nValues[i], left + 48, top + 254, ANNO_FONT);

  const htop = ROW_TOP[1];
  addText(histLetters[i], left + 25, htop + 65, ANNO_FONT);
  addText("MBE = " + mbeValues[i] + "%", left + 398, htop + 80, ANNO_FONT);
  addText("Md =" + mdValues[i] + "%", left + 398, htop + 150, ANNO_FONT);
  addText("SD =" + sdValues[i] + "%", left + 398, htop + 220, ANNO_FONT);
});
addVText("ZSR<sub>ZEN</sub>" + unitHTML, 86, 577, LABEL_FONT);
addVText("N", 113, 1660, LABEL_FONT);
addText("Density", 4393, 70, 40, "center");
</script>
</body>
</html>
